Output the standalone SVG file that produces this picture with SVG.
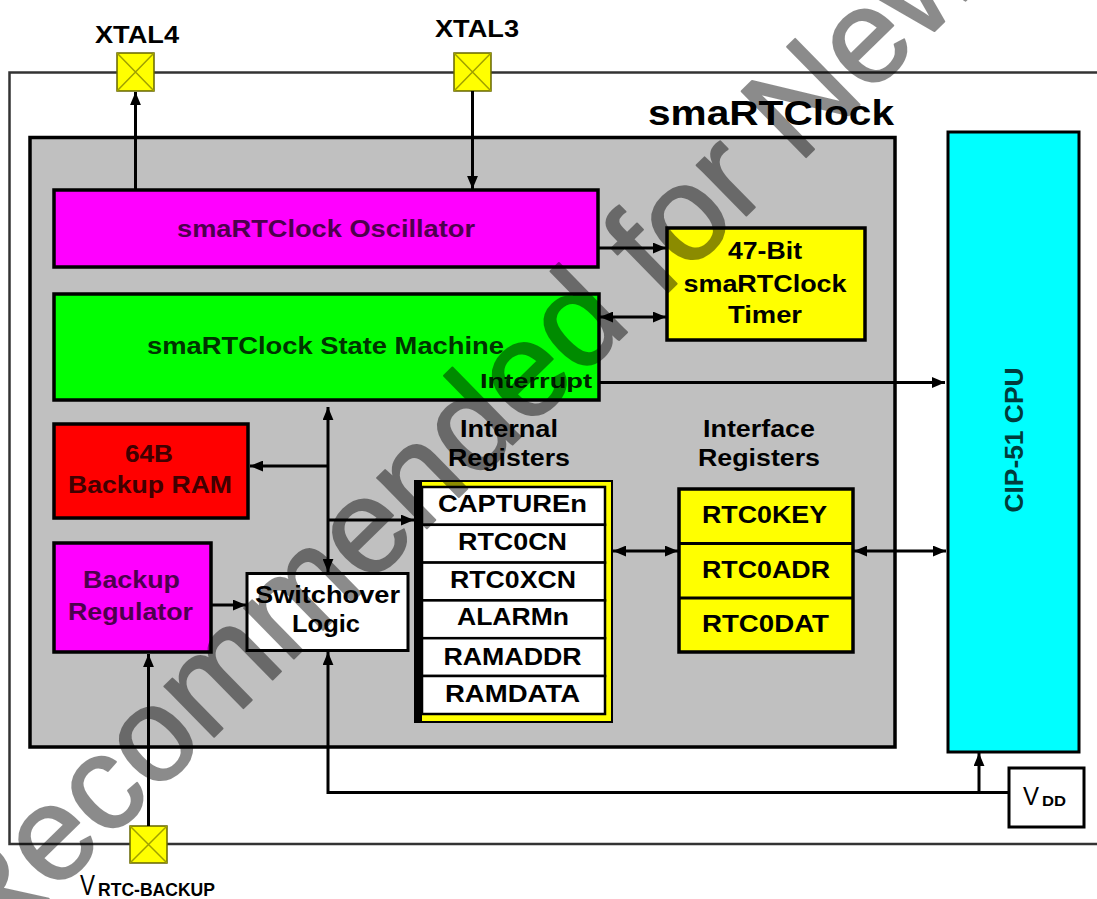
<svg xmlns="http://www.w3.org/2000/svg" width="1097" height="899" viewBox="0 0 1097 899">
<style>
text{font-family:"Liberation Sans",Arial,sans-serif;font-weight:bold;fill:#000}
.m{text-anchor:middle}
.f23{font-size:23px}
.f24{font-size:24px}
.box{stroke:#000;stroke-width:3.5}
.ln{stroke:#000;stroke-width:3;fill:none}
.pad{fill:#ffff00;stroke:#666600;stroke-width:1.5}
.padx{stroke:#a0a000;stroke-width:1.5}
.frame{stroke:#333;stroke-width:2.5;fill:none}
.cell{fill:#fff;stroke:#000;stroke-width:2.5}
.wm{font-family:"Liberation Sans",Arial,sans-serif;font-weight:normal;font-size:134px;fill:#000;stroke:#000;stroke-width:2;stroke-linejoin:round}
</style>
<defs>
<marker id="ah" viewBox="0 0 12 10" refX="12" refY="5" markerWidth="13" markerHeight="11" markerUnits="userSpaceOnUse" orient="auto-start-reverse">
<path d="M0,0 L12,5 L0,10 z" fill="#000"/>
</marker>
</defs>
<rect width="1097" height="899" fill="#fff"/>
<g id="frame">
<path class="frame" d="M1097,72.5 H9.5 V844 H1097"/>
</g>
<g id="pads">
<g id="xtal4">
<rect class="pad" x="117" y="53" width="37" height="38"/>
<path class="padx" d="M117,53 L154,91 M154,53 L117,91"/>
<text class="m f24" x="137" y="43" textLength="84" lengthAdjust="spacingAndGlyphs">XTAL4</text>
</g>
<g id="xtal3">
<rect class="pad" x="454" y="53" width="37" height="38"/>
<path class="padx" d="M454,53 L491,91 M491,53 L454,91"/>
<text class="m f24" x="477" y="37" textLength="84" lengthAdjust="spacingAndGlyphs">XTAL3</text>
</g>
<g id="vrtc">
<rect class="pad" x="130" y="826" width="37" height="37"/>
<path class="padx" d="M130,826 L167,863 M167,826 L130,863"/>
<text x="80" y="895" style="font-weight:normal;font-size:29px" textLength="15" lengthAdjust="spacingAndGlyphs">V</text>
<text x="98" y="896" style="font-size:18px" textLength="117" lengthAdjust="spacingAndGlyphs">RTC-BACKUP</text>
</g>
</g>
<g id="smartclock">
<rect class="box" x="30" y="137.5" width="865" height="609.5" fill="#c0c0c0"/>
<text x="648" y="125" style="font-size:35px" textLength="246" lengthAdjust="spacingAndGlyphs">smaRTClock</text>
</g>
<g id="oscillator">
<rect class="box" x="54" y="190" width="544" height="77" fill="#ff00ff"/>
<text class="m f23" x="326" y="237" style="fill:#4d004d" textLength="298" lengthAdjust="spacingAndGlyphs">smaRTClock Oscillator</text>
</g>
<g id="timer">
<rect class="box" x="667" y="228" width="198" height="112" fill="#ffff00"/>
<text class="m f23" x="765" y="259" textLength="74" lengthAdjust="spacingAndGlyphs">47-Bit</text>
<text class="m f23" x="765" y="292" textLength="163" lengthAdjust="spacingAndGlyphs">smaRTClock</text>
<text class="m f23" x="765" y="323" textLength="74" lengthAdjust="spacingAndGlyphs">Timer</text>
</g>
<g id="statemachine">
<rect class="box" x="54" y="294" width="545" height="106" fill="#00ff00"/>
<text class="m f23" x="325.5" y="354" style="fill:#003300" textLength="357" lengthAdjust="spacingAndGlyphs">smaRTClock State Machine</text>
<text x="480" y="388" style="font-size:21px;fill:#002200" textLength="112" lengthAdjust="spacingAndGlyphs">Interrupt</text>
</g>
<g id="backupram">
<rect class="box" x="54" y="424" width="194" height="94" fill="#ff0000"/>
<text class="m f23" x="149" y="462" style="fill:#400000" textLength="48" lengthAdjust="spacingAndGlyphs">64B</text>
<text class="m f23" x="150" y="493" style="fill:#400000" textLength="164" lengthAdjust="spacingAndGlyphs">Backup RAM</text>
</g>
<g id="backupregulator">
<rect class="box" x="54" y="543" width="157" height="109" fill="#ff00ff"/>
<text class="m f23" x="131.5" y="588" style="fill:#4d004d" textLength="97" lengthAdjust="spacingAndGlyphs">Backup</text>
<text class="m f23" x="130.5" y="620" style="fill:#4d004d" textLength="125" lengthAdjust="spacingAndGlyphs">Regulator</text>
</g>
<g id="switchover">
<rect x="247" y="573.5" width="161" height="77" fill="#fff" stroke="#000" stroke-width="3"/>
<text class="m f24" x="327.5" y="603" textLength="145" lengthAdjust="spacingAndGlyphs">Switchover</text>
<text class="m f24" x="326" y="632" textLength="68" lengthAdjust="spacingAndGlyphs">Logic</text>
</g>
<g id="internalregisters">
<text class="m f23" x="509" y="437" textLength="98" lengthAdjust="spacingAndGlyphs">Internal</text>
<text class="m f23" x="509" y="466" textLength="122" lengthAdjust="spacingAndGlyphs">Registers</text>
<rect x="415" y="481" width="197" height="241" fill="#ffff00" stroke="#000" stroke-width="2"/>
<rect x="415" y="481" width="7" height="241" fill="#000"/>
<rect class="cell" x="422" y="487" width="183" height="37.8"/>
<rect class="cell" x="422" y="524.8" width="183" height="37.8"/>
<rect class="cell" x="422" y="562.6" width="183" height="37.8"/>
<rect class="cell" x="422" y="600.4" width="183" height="37.8"/>
<rect class="cell" x="422" y="638.2" width="183" height="37.8"/>
<rect class="cell" x="422" y="676" width="183" height="38"/>
<text class="m f24" x="512.5" y="512" textLength="149" lengthAdjust="spacingAndGlyphs">CAPTUREn</text>
<text class="m f24" x="512.5" y="550" textLength="109" lengthAdjust="spacingAndGlyphs">RTC0CN</text>
<text class="m f24" x="513" y="588" textLength="126" lengthAdjust="spacingAndGlyphs">RTC0XCN</text>
<text class="m f24" x="513" y="625" textLength="112" lengthAdjust="spacingAndGlyphs">ALARMn</text>
<text class="m f24" x="512.5" y="665" textLength="138" lengthAdjust="spacingAndGlyphs">RAMADDR</text>
<text class="m f24" x="512.5" y="702" textLength="135" lengthAdjust="spacingAndGlyphs">RAMDATA</text>
</g>
<g id="interfaceregisters">
<text class="m f23" x="759" y="437" textLength="112" lengthAdjust="spacingAndGlyphs">Interface</text>
<text class="m f23" x="759" y="466" textLength="122" lengthAdjust="spacingAndGlyphs">Registers</text>
<rect class="box" x="679" y="489" width="174" height="163" fill="#ffff00" stroke-width="3"/>
<path d="M679,543.5 H853 M679,598 H853" stroke="#000" stroke-width="3"/>
<text class="m f24" x="764.5" y="523" textLength="125" lengthAdjust="spacingAndGlyphs">RTC0KEY</text>
<text class="m f24" x="766" y="578" textLength="128" lengthAdjust="spacingAndGlyphs">RTC0ADR</text>
<text class="m f24" x="765.5" y="632" textLength="127" lengthAdjust="spacingAndGlyphs">RTC0DAT</text>
</g>
<g id="cpu">
<rect x="948" y="132" width="131" height="620" fill="#00ffff" stroke="#000" stroke-width="3"/>
<text class="m" transform="translate(1023,440) rotate(-90)" x="0" y="0" style="font-size:26px;fill:#003c3c" textLength="145" lengthAdjust="spacingAndGlyphs">CIP-51 CPU</text>
</g>
<g id="vdd">
<rect x="1009" y="768" width="75" height="59" fill="#fff" stroke="#000" stroke-width="3"/>
<text x="1023" y="805" style="font-weight:normal;font-size:26px" textLength="16" lengthAdjust="spacingAndGlyphs">V</text>
<text x="1042" y="806" style="font-size:15px" textLength="24" lengthAdjust="spacingAndGlyphs">DD</text>
</g>
<g id="connectors">
<path class="ln" d="M135.5,190 V92" marker-end="url(#ah)"/>
<path class="ln" d="M472.5,91 V189" marker-end="url(#ah)"/>
<path class="ln" d="M598,248 H666" marker-end="url(#ah)"/>
<path class="ln" d="M600,317 H666" marker-start="url(#ah)" marker-end="url(#ah)"/>
<path class="ln" d="M598,382.5 H945" marker-end="url(#ah)"/>
<path class="ln" d="M328,407 V572" marker-start="url(#ah)" marker-end="url(#ah)"/>
<path class="ln" d="M328,466 H250" marker-end="url(#ah)"/>
<path class="ln" d="M328,520 H414" marker-end="url(#ah)"/>
<path class="ln" d="M211,605 H246" marker-end="url(#ah)"/>
<path class="ln" d="M613,551 H678" marker-start="url(#ah)" marker-end="url(#ah)"/>
<path class="ln" d="M854,551 H946" marker-start="url(#ah)" marker-end="url(#ah)"/>
<path class="ln" d="M1009,792.5 H328 V652" marker-end="url(#ah)"/>
<path class="ln" d="M979,792.5 V753" marker-end="url(#ah)"/>
<path class="ln" d="M148.5,826 V654" marker-end="url(#ah)"/>
</g>
<g id="watermark" opacity="0.45">
<text class="wm" x="-16" y="962" transform="rotate(-44.4,-16,962)">Recommended for New</text>
</g>
</svg>
